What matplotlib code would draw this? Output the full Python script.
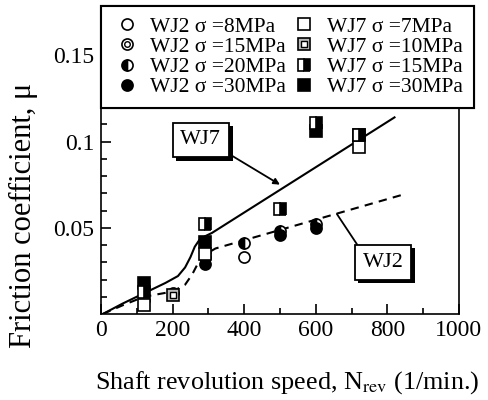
import matplotlib
matplotlib.use("Agg")
import matplotlib.pyplot as plt
import matplotlib.patheffects as pe
from matplotlib.lines import Line2D
from matplotlib.legend_handler import HandlerTuple

plt.rcParams['font.family'] = ['Liberation Serif', 'DejaVu Serif']
plt.rcParams['mathtext.fontset'] = 'stix'

# speeds (1/min) and friction coefficients
wj2_8_x = [120, 290, 400]
wj2_8_y = [0.008, 0.036, 0.033]
wj2_15_x = [200]
wj2_15_y = [0.012]
wj2_20_x = [290, 400, 500, 600]
wj2_20_y = [0.033, 0.041, 0.048, 0.052]
wj2_30_x = [290, 500, 600]
wj2_30_y = [0.029, 0.046, 0.050]

wj7_7_x = [120, 290, 720]
wj7_7_y = [0.005, 0.035, 0.097]
wj7_10_x = [200]
wj7_10_y = [0.011]
wj7_15_x = [120, 290, 500, 600, 720]
wj7_15_y = [0.013, 0.052, 0.061, 0.111, 0.104]
wj7_30_x = [120, 290, 600, 720]
wj7_30_y = [0.018, 0.042, 0.106, 0.104]

# trend lines
wj7_line_x = [5, 60, 120, 180, 215, 235, 250, 262, 275, 290, 310, 820]
wj7_line_y = [0.0, 0.006, 0.012, 0.018, 0.022, 0.027, 0.033, 0.039, 0.043, 0.045, 0.047, 0.114]
wj2_line_x = [5, 60, 120, 200, 235, 255, 275, 295, 320, 840]
wj2_line_y = [0.0, 0.005, 0.010, 0.013, 0.017, 0.023, 0.031, 0.035, 0.038, 0.069]

fig = plt.figure(figsize=(4.89, 4.0), dpi=100)
ax = fig.add_axes([0.2065, 0.215, 0.732, 0.7675])

ax.plot(wj7_line_x, wj7_line_y, color='k', lw=1.5, zorder=2)
ax.plot(wj2_line_x, wj2_line_y, color='k', lw=1.5, ls=(0, (4, 3)), zorder=2)

ms_c = 8
ms_s = 8.5
# WJ2 circles
ax.plot(wj2_8_x, wj2_8_y, 'o', ms=ms_c, mfc='white', mec='k', mew=1.2, ls='none', zorder=3)
ax.plot(wj2_15_x, wj2_15_y, 'o', ms=ms_c, mfc='white', mec='k', mew=1.2, ls='none', zorder=3)
ax.plot(wj2_15_x, wj2_15_y, 'o', ms=4, mfc='white', mec='k', mew=1.0, ls='none', zorder=3)
ax.plot(wj2_20_x, wj2_20_y, 'o', ms=ms_c, fillstyle='left', mfc='k', mfcalt='white', mec='k', mew=1.2, ls='none', zorder=3)
ax.plot(wj2_30_x, wj2_30_y, 'o', ms=ms_c, mfc='k', mec='k', mew=1.2, ls='none', zorder=3)
# WJ7 squares
ax.plot(wj7_7_x, wj7_7_y, 's', ms=ms_s, mfc='white', mec='k', mew=1.2, ls='none', zorder=4)
ax.plot(wj7_10_x, wj7_10_y, 's', ms=ms_s, mfc='#bbbbbb', mec='k', mew=1.2, ls='none', zorder=4)
ax.plot(wj7_10_x, wj7_10_y, 's', ms=4, mfc='white', mec='k', mew=1.0, ls='none', zorder=4)
ax.plot(wj7_15_x, wj7_15_y, 's', ms=ms_s, fillstyle='right', mfc='k', mfcalt='white', mec='k', mew=1.2, ls='none', zorder=4)
ax.plot(wj7_30_x, wj7_30_y, 's', ms=ms_s, mfc='k', mec='k', mew=1.2, ls='none', zorder=3)

ax.set_xlim(0, 1000)
ax.set_ylim(0, 0.178)
ax.set_xticks([0, 200, 400, 600, 800, 1000])
ax.set_xticks(range(0, 1001, 100), minor=True)
ax.set_yticks([0.05, 0.1, 0.15])
ax.set_yticklabels(['0.05', '0.1', '0.15'])
ax.set_yticks([i / 100 for i in range(1, 18)], minor=True)
ax.tick_params(which='both', direction='in', labelsize=17, width=1.2)
ax.tick_params(which='major', length=7)
ax.tick_params(which='minor', length=4)
ax.tick_params(axis='x', pad=4)
ax.tick_params(axis='y', pad=5)
for s in ax.spines.values():
    s.set_linewidth(1.2)

ax.set_xlabel(r'Shaft revolution speed, N$_{\rm rev}$ (1/min.)', fontsize=18.8)
ax.xaxis.set_label_coords(0.52, -0.18)
ax.set_ylabel('Friction coefficient, \u03bc', fontsize=22)
ax.yaxis.set_label_coords(-0.175, 0.32)

# box labels with arrows
shadow = [pe.SimplePatchShadow(offset=(2.5, -2.5), shadow_rgbFace='k', alpha=1), pe.Normal()]
t7 = ax.annotate('WJ7', xy=(500, 0.075), xytext=(279, 0.101), fontsize=16, ha='center', va='center',
                 bbox=dict(boxstyle='square,pad=0.35', fc='white', ec='k', lw=1.3),
                 arrowprops=dict(arrowstyle='-|>', relpos=(1, 0), lw=1.3, color='k',
                                 mutation_scale=9, shrinkA=0, shrinkB=0), zorder=5)
t7.get_bbox_patch().set_path_effects(shadow)
t2 = ax.annotate('WJ2', xy=(659, 0.058), xytext=(788, 0.030), fontsize=16, ha='center', va='center',
                 bbox=dict(boxstyle='square,pad=0.35', fc='white', ec='k', lw=1.3),
                 arrowprops=dict(arrowstyle='-', relpos=(0, 1), lw=1.3, color='k',
                                 shrinkA=0, shrinkB=0), zorder=5)
t2.get_bbox_patch().set_path_effects(shadow)

# legend
kw = dict(ls='none', mec='k', mew=1.2)
h = [
    Line2D([], [], marker='o', ms=ms_c, mfc='white', **kw),
    (Line2D([], [], marker='o', ms=ms_c, mfc='white', **kw),
     Line2D([], [], marker='o', ms=4, mfc='white', ls='none', mec='k', mew=1.0)),
    Line2D([], [], marker='o', ms=ms_c, fillstyle='left', mfc='k', mfcalt='white', **kw),
    Line2D([], [], marker='o', ms=ms_c, mfc='k', **kw),
    Line2D([], [], marker='s', ms=ms_s, mfc='white', **kw),
    (Line2D([], [], marker='s', ms=ms_s, mfc='#bbbbbb', **kw),
     Line2D([], [], marker='s', ms=4, mfc='white', ls='none', mec='k', mew=1.0)),
    Line2D([], [], marker='s', ms=ms_s, fillstyle='right', mfc='k', mfcalt='white', **kw),
    Line2D([], [], marker='s', ms=ms_s, mfc='k', **kw),
]
labels = ['WJ2 \u03c3 =8MPa', 'WJ2 \u03c3 =15MPa', 'WJ2 \u03c3 =20MPa', 'WJ2 \u03c3 =30MPa',
          'WJ7 \u03c3 =7MPa', 'WJ7 \u03c3 =10MPa', 'WJ7 \u03c3 =15MPa', 'WJ7 \u03c3 =30MPa']
leg = ax.legend(h, labels, ncol=2, loc='upper left', bbox_to_anchor=(0.0, 1.003), borderaxespad=0,
                fontsize=15.5, handler_map={tuple: HandlerTuple(ndivide=1, pad=0)},
                handlelength=1.4, handletextpad=0.4, columnspacing=0.1, labelspacing=0.0,
                borderpad=0.5, fancybox=False, edgecolor='k', framealpha=1,
                shadow={'color': 'k', 'alpha': 1, 'ox': 0.004, 'oy': -0.006})
leg.get_frame().set_linewidth(1.5)
leg.set_zorder(6)

fig.savefig('out.png', dpi=100)
